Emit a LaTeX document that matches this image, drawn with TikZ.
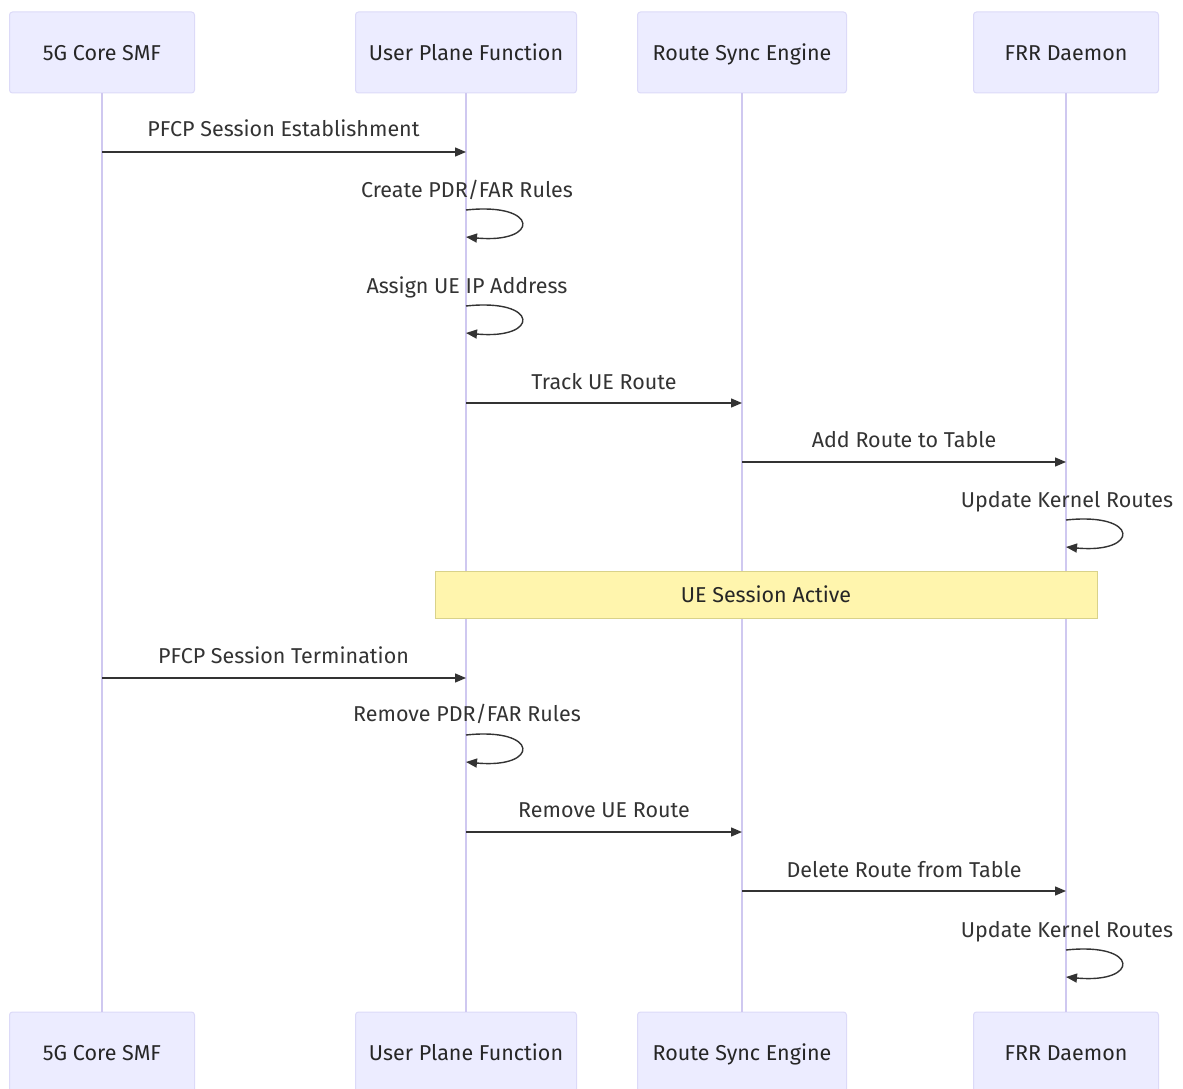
\documentclass[tikz,border=0pt]{standalone}
\usepackage{fontspec}
\setmainfont{Fira Sans}
\usetikzlibrary{arrows.meta}

\definecolor{actfill}{HTML}{ECECFF}
\definecolor{actline}{HTML}{DCDAF8}
\definecolor{lifecol}{HTML}{CFC8F0}
\definecolor{notefill}{HTML}{FFF5AD}
\definecolor{noteline}{HTML}{D9D28A}
\definecolor{msgcol}{HTML}{333333}

\newcommand{\seqfont}{\fontsize{21.5}{25}\selectfont}

\tikzset{
  actor/.style={draw=actline, fill=actfill, rounded corners=3pt, line width=1pt,
    minimum height=81pt, font=\seqfont, text=black!85, text height=20pt, text depth=4pt},
  lifeline/.style={draw=lifecol, line width=1.5pt},
  msg/.style={draw=msgcol, line width=1.4pt, -{Triangle[length=11pt,width=9pt]}},
  msglabel/.style={anchor=base, inner sep=0pt, font=\seqfont, text=msgcol},
  notebox/.style={draw=noteline, fill=notefill, line width=1pt, font=\seqfont,
    text=black!85, minimum width=662pt, minimum height=47pt}
}

\begin{document}
\begin{tikzpicture}[x=1pt,y=-1pt]

\useasboundingbox (0,0) rectangle (1183,1089);

%actors top
\node[actor, minimum width=185pt] at (102, 52.5) (smf) {5G Core SMF};
\node[actor, minimum width=221pt] at (466, 52.5) (upf) {User Plane Function};
\node[actor, minimum width=209pt] at (742, 52.5) (rse) {Route Sync Engine};
\node[actor, minimum width=185pt] at (1066, 52.5) (frr) {FRR Daemon};

%actors bottom
\node[actor, minimum width=185pt] at (102, 1052.5) (smfb) {5G Core SMF};
\node[actor, minimum width=221pt] at (466, 1052.5) (upfb) {User Plane Function};
\node[actor, minimum width=209pt] at (742, 1052.5) (rseb) {Route Sync Engine};
\node[actor, minimum width=185pt] at (1066, 1052.5) (frrb) {FRR Daemon};

%lifelines
\draw[lifeline] (smf.south) -- (smfb.north);
\draw[lifeline] (upf.south) -- (upfb.north);
\draw[lifeline] (rse.south) -- (rseb.north);
\draw[lifeline] (frr.south) -- (frrb.north);

%note
\node[notebox] at (766, 594.5) (active) {UE Session Active};

%messages
\coordinate (smf1) at (102, 152);
\coordinate (upf1) at (466, 152);
\draw[msg] (smf1) -- (upf1);
\node[msglabel] at (283.5, 137) (m1) {PFCP Session Establishment};

\coordinate (upf2) at (466, 210);
\coordinate (upf3) at (466, 237);
\draw[msg] (upf2) .. controls (540, 202) and (540, 244) .. (upf3);
\node[msglabel] at (467, 197) (m2) {Create PDR/FAR Rules};

\coordinate (upf4) at (466, 306);
\coordinate (upf5) at (466, 333);
\draw[msg] (upf4) .. controls (540, 298) and (540, 340) .. (upf5);
\node[msglabel] at (467, 293) (m3) {Assign UE IP Address};

\coordinate (upf6) at (466, 403);
\coordinate (rse6) at (742, 403);
\draw[msg] (upf6) -- (rse6);
\node[msglabel] at (604, 389) (m4) {Track UE Route};

\coordinate (rse7) at (742, 462);
\coordinate (frr7) at (1066, 462);
\draw[msg] (rse7) -- (frr7);
\node[msglabel] at (904, 447) (m5) {Add Route to Table};

\coordinate (frr8) at (1066, 520);
\coordinate (frr9) at (1066, 547);
\draw[msg] (frr8) .. controls (1140, 512) and (1140, 554) .. (frr9);
\node[msglabel] at (1067, 507) (m6) {Update Kernel Routes};

\coordinate (smf10) at (102, 678);
\coordinate (upf10) at (466, 678);
\draw[msg] (smf10) -- (upf10);
\node[msglabel] at (283.5, 663) (m7) {PFCP Session Termination};

\coordinate (upf11) at (466, 735);
\coordinate (upf12) at (466, 762);
\draw[msg] (upf11) .. controls (540, 727) and (540, 769) .. (upf12);
\node[msglabel] at (467, 721) (m8) {Remove PDR/FAR Rules};

\coordinate (upf13) at (466, 832);
\coordinate (rse13) at (742, 832);
\draw[msg] (upf13) -- (rse13);
\node[msglabel] at (604, 817) (m9) {Remove UE Route};

\coordinate (rse14) at (742, 891);
\coordinate (frr14) at (1066, 891);
\draw[msg] (rse14) -- (frr14);
\node[msglabel] at (904, 877) (m10) {Delete Route from Table};

\coordinate (frr15) at (1066, 950);
\coordinate (frr16) at (1066, 977);
\draw[msg] (frr15) .. controls (1140, 942) and (1140, 984) .. (frr16);
\node[msglabel] at (1067, 937) (m11) {Update Kernel Routes};

\end{tikzpicture}
\end{document}
